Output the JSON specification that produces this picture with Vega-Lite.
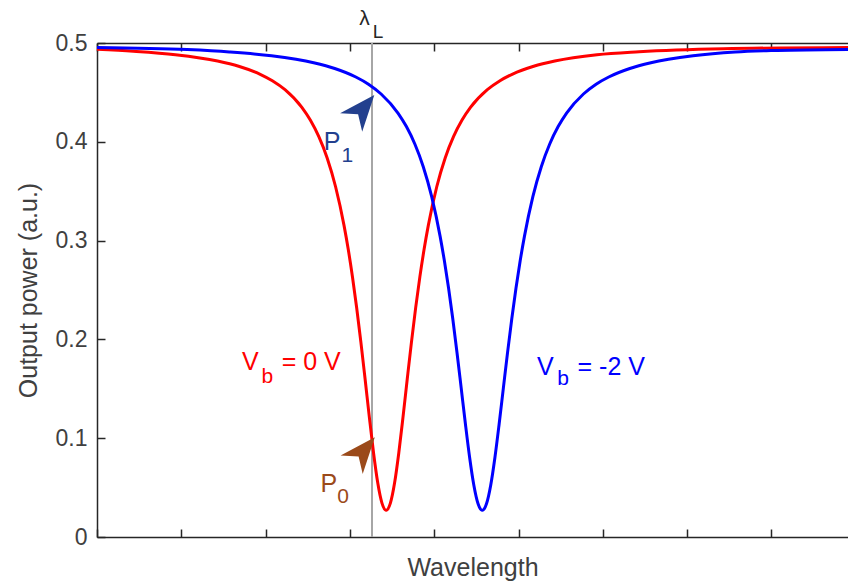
{
  "$schema": "https://vega.github.io/schema/vega-lite/v6.json",
  "width": 751,
  "height": 494,
  "autosize": {"type": "none"},
  "padding": {"left": 97, "top": 43, "right": 0, "bottom": 51},
  "background": "white",
  "config": {
    "view": {"stroke": null},
    "font": "Liberation Sans",
    "axis": {
      "grid": false,
      "domainColor": "#262626",
      "domainWidth": 1.5,
      "ticks": true,
      "tickColor": "#262626",
      "tickWidth": 1.5,
      "tickSize": -8,
      "labelColor": "#404040",
      "labelFont": "Liberation Sans",
      "labelFontSize": 23,
      "titleColor": "#404040",
      "titleFont": "Liberation Sans",
      "titleFontSize": 25,
      "titleFontWeight": "normal"
    }
  },
  "resolve": {"axis": {"x": "independent", "y": "independent"}},
  "datasets": {
    "curves": [
      {"series": "Vb0", "lambda": 0, "power": 0.4937},
      {"series": "Vb0", "lambda": 0.43, "power": 0.4917},
      {"series": "Vb0", "lambda": 0.93, "power": 0.4882},
      {"series": "Vb0", "lambda": 1.43, "power": 0.4818},
      {"series": "Vb0", "lambda": 1.68, "power": 0.4765},
      {"series": "Vb0", "lambda": 1.93, "power": 0.4686},
      {"series": "Vb0", "lambda": 2.08, "power": 0.4618},
      {"series": "Vb0", "lambda": 2.23, "power": 0.4527},
      {"series": "Vb0", "lambda": 2.43, "power": 0.4348},
      {"series": "Vb0", "lambda": 2.53, "power": 0.422},
      {"series": "Vb0", "lambda": 2.63, "power": 0.4054},
      {"series": "Vb0", "lambda": 2.73, "power": 0.3836},
      {"series": "Vb0", "lambda": 2.83, "power": 0.3545},
      {"series": "Vb0", "lambda": 2.93, "power": 0.3154},
      {"series": "Vb0", "lambda": 2.98, "power": 0.2912},
      {"series": "Vb0", "lambda": 3.03, "power": 0.2635},
      {"series": "Vb0", "lambda": 3.08, "power": 0.2321},
      {"series": "Vb0", "lambda": 3.13, "power": 0.1973},
      {"series": "Vb0", "lambda": 3.18, "power": 0.1599},
      {"series": "Vb0", "lambda": 3.23, "power": 0.1216},
      {"series": "Vb0", "lambda": 3.28, "power": 0.0853},
      {"series": "Vb0", "lambda": 3.33, "power": 0.0548},
      {"series": "Vb0", "lambda": 3.38, "power": 0.0343},
      {"series": "Vb0", "lambda": 3.43, "power": 0.027},
      {"series": "Vb0", "lambda": 3.48, "power": 0.0343},
      {"series": "Vb0", "lambda": 3.53, "power": 0.0548},
      {"series": "Vb0", "lambda": 3.58, "power": 0.0853},
      {"series": "Vb0", "lambda": 3.63, "power": 0.1216},
      {"series": "Vb0", "lambda": 3.68, "power": 0.1599},
      {"series": "Vb0", "lambda": 3.73, "power": 0.1973},
      {"series": "Vb0", "lambda": 3.78, "power": 0.2321},
      {"series": "Vb0", "lambda": 3.83, "power": 0.2635},
      {"series": "Vb0", "lambda": 3.88, "power": 0.2912},
      {"series": "Vb0", "lambda": 3.93, "power": 0.3154},
      {"series": "Vb0", "lambda": 4.03, "power": 0.3545},
      {"series": "Vb0", "lambda": 4.13, "power": 0.3836},
      {"series": "Vb0", "lambda": 4.23, "power": 0.4054},
      {"series": "Vb0", "lambda": 4.33, "power": 0.422},
      {"series": "Vb0", "lambda": 4.43, "power": 0.4348},
      {"series": "Vb0", "lambda": 4.63, "power": 0.4527},
      {"series": "Vb0", "lambda": 4.78, "power": 0.4618},
      {"series": "Vb0", "lambda": 4.93, "power": 0.4686},
      {"series": "Vb0", "lambda": 5.18, "power": 0.4765},
      {"series": "Vb0", "lambda": 5.43, "power": 0.4818},
      {"series": "Vb0", "lambda": 5.93, "power": 0.4882},
      {"series": "Vb0", "lambda": 6.43, "power": 0.4912},
      {"series": "Vb0", "lambda": 7.43, "power": 0.4942},
      {"series": "Vb0", "lambda": 8.908, "power": 0.4955},
      {"series": "Vb-2", "lambda": 0, "power": 0.4955},
      {"series": "Vb-2", "lambda": 1.07, "power": 0.4933},
      {"series": "Vb-2", "lambda": 1.57, "power": 0.4909},
      {"series": "Vb-2", "lambda": 2.07, "power": 0.487},
      {"series": "Vb-2", "lambda": 2.57, "power": 0.48},
      {"series": "Vb-2", "lambda": 2.82, "power": 0.4742},
      {"series": "Vb-2", "lambda": 3.07, "power": 0.4656},
      {"series": "Vb-2", "lambda": 3.22, "power": 0.4583},
      {"series": "Vb-2", "lambda": 3.37, "power": 0.4484},
      {"series": "Vb-2", "lambda": 3.57, "power": 0.4291},
      {"series": "Vb-2", "lambda": 3.67, "power": 0.4154},
      {"series": "Vb-2", "lambda": 3.77, "power": 0.3978},
      {"series": "Vb-2", "lambda": 3.87, "power": 0.3748},
      {"series": "Vb-2", "lambda": 3.97, "power": 0.3445},
      {"series": "Vb-2", "lambda": 4.07, "power": 0.3043},
      {"series": "Vb-2", "lambda": 4.12, "power": 0.2798},
      {"series": "Vb-2", "lambda": 4.17, "power": 0.252},
      {"series": "Vb-2", "lambda": 4.22, "power": 0.2209},
      {"series": "Vb-2", "lambda": 4.27, "power": 0.1868},
      {"series": "Vb-2", "lambda": 4.32, "power": 0.1507},
      {"series": "Vb-2", "lambda": 4.37, "power": 0.1144},
      {"series": "Vb-2", "lambda": 4.42, "power": 0.0805},
      {"series": "Vb-2", "lambda": 4.47, "power": 0.0524},
      {"series": "Vb-2", "lambda": 4.52, "power": 0.0336},
      {"series": "Vb-2", "lambda": 4.57, "power": 0.027},
      {"series": "Vb-2", "lambda": 4.62, "power": 0.0336},
      {"series": "Vb-2", "lambda": 4.67, "power": 0.0524},
      {"series": "Vb-2", "lambda": 4.72, "power": 0.0805},
      {"series": "Vb-2", "lambda": 4.77, "power": 0.1144},
      {"series": "Vb-2", "lambda": 4.82, "power": 0.1507},
      {"series": "Vb-2", "lambda": 4.87, "power": 0.1868},
      {"series": "Vb-2", "lambda": 4.92, "power": 0.2209},
      {"series": "Vb-2", "lambda": 4.97, "power": 0.252},
      {"series": "Vb-2", "lambda": 5.02, "power": 0.2798},
      {"series": "Vb-2", "lambda": 5.07, "power": 0.3043},
      {"series": "Vb-2", "lambda": 5.17, "power": 0.3445},
      {"series": "Vb-2", "lambda": 5.27, "power": 0.3748},
      {"series": "Vb-2", "lambda": 5.37, "power": 0.3978},
      {"series": "Vb-2", "lambda": 5.47, "power": 0.4154},
      {"series": "Vb-2", "lambda": 5.57, "power": 0.4291},
      {"series": "Vb-2", "lambda": 5.77, "power": 0.4484},
      {"series": "Vb-2", "lambda": 5.92, "power": 0.4583},
      {"series": "Vb-2", "lambda": 6.07, "power": 0.4656},
      {"series": "Vb-2", "lambda": 6.32, "power": 0.4742},
      {"series": "Vb-2", "lambda": 6.57, "power": 0.48},
      {"series": "Vb-2", "lambda": 7.07, "power": 0.487},
      {"series": "Vb-2", "lambda": 7.57, "power": 0.4909},
      {"series": "Vb-2", "lambda": 8.07, "power": 0.4925},
      {"series": "Vb-2", "lambda": 8.908, "power": 0.4935}
    ],
    "marker": [{"lambda": 3.262}],
    "labels": [
      {"group": "Vb0", "part": "main", "lambda": 1.72, "power": 0.169, "text": "V"},
      {"group": "Vb0", "part": "sub", "lambda": 1.95, "power": 0.156, "text": "b"},
      {"group": "Vb0", "part": "main", "lambda": 2.19, "power": 0.169, "text": "= 0 V"},
      {"group": "Vb-2", "part": "main", "lambda": 5.22, "power": 0.164, "text": "V"},
      {"group": "Vb-2", "part": "sub", "lambda": 5.46, "power": 0.154, "text": "b"},
      {"group": "Vb-2", "part": "main", "lambda": 5.7, "power": 0.164, "text": "= -2 V"},
      {"group": "P1", "part": "main", "lambda": 2.69, "power": 0.392, "text": "P"},
      {"group": "P1", "part": "sub", "lambda": 2.9, "power": 0.38, "text": "1"},
      {"group": "P0", "part": "main", "lambda": 2.65, "power": 0.0455, "text": "P"},
      {"group": "P0", "part": "sub", "lambda": 2.85, "power": 0.0344, "text": "0"},
      {"group": "lambda", "part": "main", "lambda": 3.11, "power": 0.518, "text": "λ"},
      {"group": "lambda", "part": "sub", "lambda": 3.27, "power": 0.505, "text": "L"}
    ],
    "arrows": [
      {"group": "P1", "lambda": 3.152, "power": 0.4335},
      {"group": "P0", "lambda": 3.158, "power": 0.087}
    ]
  },
  "layer": [
    {
      "data": {"name": "marker"},
      "mark": {"type": "rule", "color": "#a6a6a6", "strokeWidth": 2},
      "encoding": {
        "x": {
          "field": "lambda", "type": "quantitative",
          "scale": {"domain": [0, 8.908], "nice": false},
          "axis": {"orient": "top", "labels": false, "title": null, "values": [0, 1, 2, 3, 4, 5, 6, 7, 8]}
        }
      }
    },
    {
      "data": {"name": "curves"},
      "mark": {"type": "line", "strokeWidth": 3, "interpolate": "monotone"},
      "encoding": {
        "x": {
          "field": "lambda", "type": "quantitative",
          "scale": {"domain": [0, 8.908], "nice": false},
          "axis": {"orient": "bottom", "labels": false, "title": "Wavelength", "titlePadding": 18, "values": [0, 1, 2, 3, 4, 5, 6, 7, 8]}
        },
        "y": {
          "field": "power", "type": "quantitative",
          "scale": {"domain": [0, 0.5], "nice": false},
          "axis": {"orient": "left", "title": "Output power (a.u.)", "values": [0, 0.1, 0.2, 0.3, 0.4, 0.5], "format": "~g", "labelPadding": 18, "titlePadding": 14}
        },
        "color": {
          "field": "series", "type": "nominal", "legend": null,
          "scale": {"domain": ["Vb0", "Vb-2", "P1", "P0", "lambda"], "range": ["#ff0000", "#0000ff", "#23408e", "#9b4a1a", "#262626"]}
        },
        "detail": {"field": "series"}
      }
    },
    {
      "data": {"name": "arrows"},
      "mark": {"type": "point", "filled": true, "opacity": 1, "shape": "M0,-1L0.8,1L0,0.4L-0.8,1Z", "size": 1300, "angle": 40},
      "encoding": {
        "x": {"field": "lambda", "type": "quantitative", "axis": null},
        "y": {"field": "power", "type": "quantitative", "axis": null},
        "color": {"field": "group", "type": "nominal", "legend": null}
      }
    },
    {
      "data": {"name": "labels"},
      "transform": [{"filter": "datum.part === 'main' && datum.group !== 'lambda'"}],
      "mark": {"type": "text", "align": "left", "baseline": "alphabetic", "fontSize": 25, "font": "Liberation Sans"},
      "encoding": {
        "x": {"field": "lambda", "type": "quantitative", "axis": null},
        "y": {"field": "power", "type": "quantitative", "axis": null},
        "text": {"field": "text"},
        "color": {"field": "group", "type": "nominal", "legend": null}
      }
    },
    {
      "data": {"name": "labels"},
      "transform": [{"filter": "datum.part === 'sub' && datum.group !== 'lambda'"}],
      "mark": {"type": "text", "align": "left", "baseline": "alphabetic", "fontSize": 21, "font": "Liberation Sans"},
      "encoding": {
        "x": {"field": "lambda", "type": "quantitative", "axis": null},
        "y": {"field": "power", "type": "quantitative", "axis": null},
        "text": {"field": "text"},
        "color": {"field": "group", "type": "nominal", "legend": null}
      }
    },
    {
      "data": {"name": "labels"},
      "transform": [{"filter": "datum.group === 'lambda' && datum.part === 'main'"}],
      "mark": {"type": "text", "align": "left", "baseline": "alphabetic", "fontSize": 21, "font": "Liberation Sans"},
      "encoding": {
        "x": {"field": "lambda", "type": "quantitative", "axis": null},
        "y": {"field": "power", "type": "quantitative", "axis": null},
        "text": {"field": "text"},
        "color": {"field": "group", "type": "nominal", "legend": null}
      }
    },
    {
      "data": {"name": "labels"},
      "transform": [{"filter": "datum.group === 'lambda' && datum.part === 'sub'"}],
      "mark": {"type": "text", "align": "left", "baseline": "alphabetic", "fontSize": 19, "font": "Liberation Sans"},
      "encoding": {
        "x": {"field": "lambda", "type": "quantitative", "axis": null},
        "y": {"field": "power", "type": "quantitative", "axis": null},
        "text": {"field": "text"},
        "color": {"field": "group", "type": "nominal", "legend": null}
      }
    }
  ]
}
